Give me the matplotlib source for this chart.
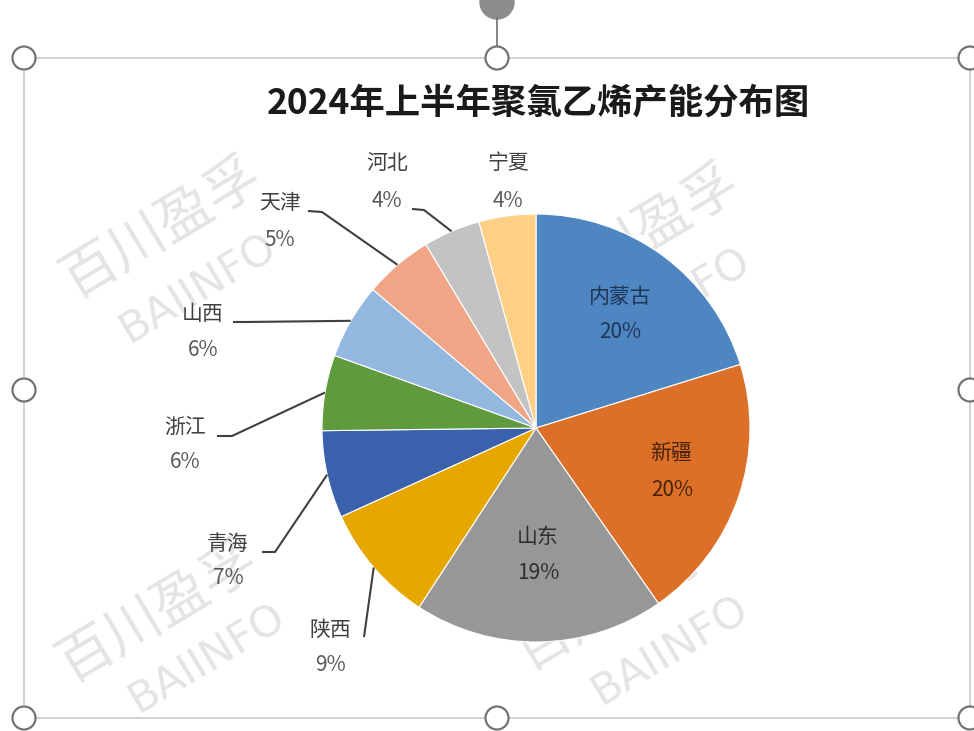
import matplotlib
matplotlib.use("Agg")
import matplotlib.pyplot as plt
from matplotlib.patches import Circle, Rectangle
import numpy as np

plt.rcParams['font.family'] = ['Noto Sans CJK SC', 'DejaVu Sans']

# ---- data ----
title = "2024年上半年聚氯乙烯产能分布图"
regions = ["内蒙古", "新疆", "山东", "陕西", "青海", "浙江", "山西", "天津", "河北", "宁夏"]
shares = [20.2, 20.1, 18.9, 9.0, 6.6, 5.7, 5.7, 5.2, 4.3, 4.3]
colors = ["#4d86c1", "#dc7029", "#979797", "#e6a700", "#3b61ad",
          "#5f9b3c", "#93b8e0", "#efa586", "#c3c3c3", "#fdd085"]

W, H = 974, 731
fig = plt.figure(figsize=(W / 100, H / 100), dpi=100)
ax = fig.add_axes([0, 0, 1, 1])

def P(x, y):
    return (x, H - y)

cx, cy = P(536, 428)
R = 214

# watermarks (behind the pie)
wm = [((162, 228), (198, 288)), ((640, 235), (672, 302)),
      ((158, 612), (207, 658)), ((615, 600), (670, 650))]
for (a, b) in wm:
    ax.text(*P(*a), "百川盈孚", fontsize=40, color="#e4e4e4", rotation=31,
            ha="center", va="center", zorder=0)
    ax.text(*P(*b), "BAIINFO", fontsize=31, color="#e4e4e4", rotation=31,
            ha="center", va="center", zorder=0, family="DejaVu Sans")

wedges, _ = ax.pie(shares, colors=colors, startangle=90, counterclock=False,
                   center=(cx, cy), radius=R,
                   wedgeprops=dict(edgecolor="white", linewidth=0.8))
for w in wedges:
    w.set_zorder(2)

pct = [f"{round(v):.0f}%" for v in shares]

# inside labels
inside = {0: ((620, 297), (620, 332), "#1f3556"),
          1: ((671, 453), (672, 490), "#4a2208"),
          2: ((538, 537), (538, 573), "#2e2e2e")}
for i, (n, p, c) in inside.items():
    ax.text(*P(*n), regions[i], fontsize=15, color=c, ha="center", va="center", zorder=4)
    ax.text(*P(*p), pct[i], fontsize=15, color=c, ha="center", va="center", zorder=4)

# outside labels: name pos, pct pos, leader path (after edge point)
outside = {3: ((330, 630), (330, 665), [(364, 637)]),
           4: ((228, 544), (228, 578), [(275, 552), (262, 552)]),
           5: ((185, 427), (185, 462), [(232, 436), (217, 436)]),
           6: ((203, 314), (203, 350), [(245, 322), (233, 322)]),
           7: ((280, 203), (280, 240), [(322, 212), (308, 211)]),
           8: ((387, 163), (387, 201), [(424, 210), (412, 209)]),
           9: ((508, 163), (508, 201), [])}
for i, (n, p, path) in outside.items():
    ax.text(*P(*n), regions[i], fontsize=15, color="#404040", ha="center", va="center", zorder=4)
    ax.text(*P(*p), pct[i], fontsize=15, color="#595959", ha="center", va="center", zorder=4)
    if path:
        w = wedges[i]
        th = np.deg2rad((w.theta1 + w.theta2) / 2)
        ex, ey = cx + R * np.cos(th), cy + R * np.sin(th)
        xs = [ex] + [P(*q)[0] for q in path]
        ys = [ey] + [P(*q)[1] for q in path]
        ax.plot(xs, ys, color="#404040", lw=1.5, zorder=3, solid_capstyle="butt")

ax.text(*P(538, 103), title, fontsize=25.5, fontweight="bold", color="#1a1a1a",
        ha="center", va="center", zorder=4)

# selection frame and handles
ax.add_patch(Rectangle(P(24, 718), 970 - 24, 718 - 58, fill=False,
                       edgecolor="#cccccc", lw=1.2, zorder=5))
ax.add_patch(Circle(P(497, 2), 17, facecolor="#8c8c8c", edgecolor="#8c8c8c", zorder=5))
ax.plot([497, 497], [H - 18, H - 46], color="#707070", lw=1.2, zorder=5)
for (hx, hy) in [(24, 58), (497, 58), (970, 58), (24, 390), (970, 390),
                 (24, 718), (497, 718), (970, 718)]:
    ax.add_patch(Circle(P(hx, hy), 11.5, facecolor="white", edgecolor="#737373",
                        lw=1.6, zorder=6))

ax.set_xlim(0, W)
ax.set_ylim(0, H)
ax.set_aspect("equal")
ax.axis("off")
fig.savefig("out.png", dpi=100, facecolor="white")
